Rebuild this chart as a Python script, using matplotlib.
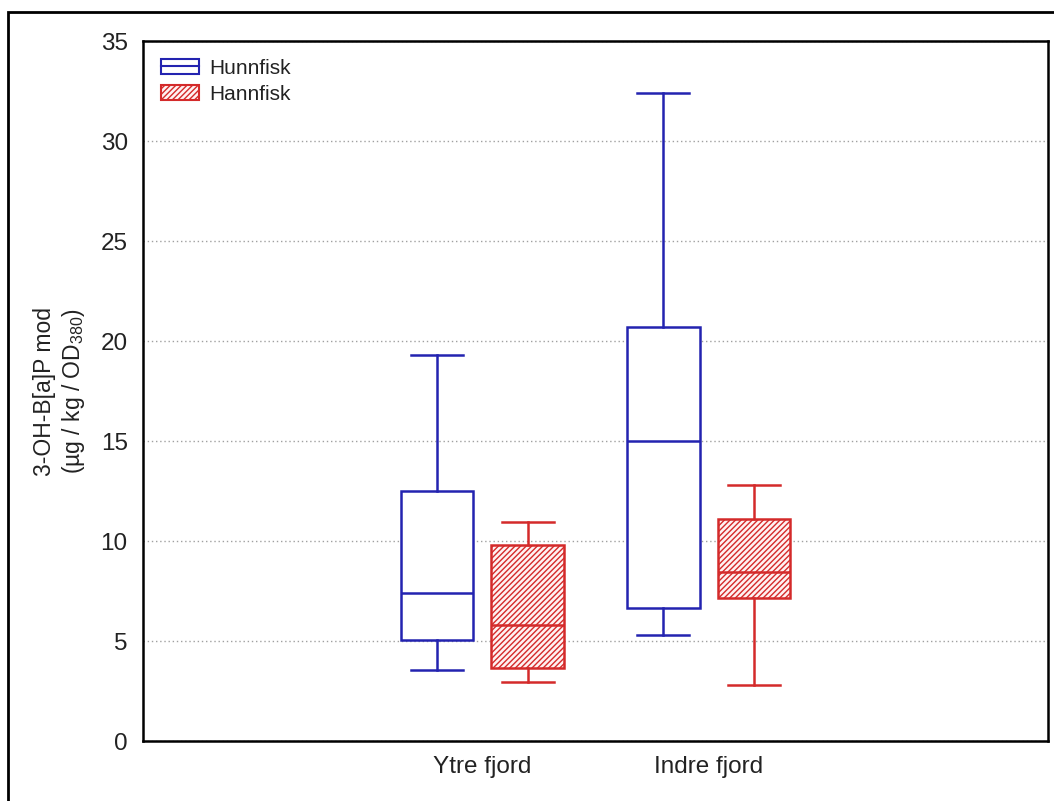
import matplotlib
matplotlib.use('Agg')
import matplotlib.pyplot as plt
from matplotlib.patches import Patch, Rectangle
from matplotlib.lines import Line2D
from matplotlib.legend_handler import HandlerTuple

plt.rcParams['font.family'] = ['Liberation Sans', 'DejaVu Sans']
plt.rcParams['mathtext.fontset'] = 'custom'
plt.rcParams['mathtext.rm'] = 'Liberation Sans'
plt.rcParams['mathtext.it'] = 'Liberation Sans'
plt.rcParams['hatch.linewidth'] = 1.0

# box statistics per location: Hunnfisk (female) and Hannfisk (male)
sites = ['Ytre fjord', 'Indre fjord']
groups = ['Hunnfisk', 'Hannfisk']
whislo = {'Hunnfisk': [3.55, 5.3], 'Hannfisk': [2.97, 2.8]}
q1 = {'Hunnfisk': [5.05, 6.67], 'Hannfisk': [3.65, 7.17]}
med = {'Hunnfisk': [7.4, 15.0], 'Hannfisk': [5.8, 8.45]}
q3 = {'Hunnfisk': [12.5, 20.7], 'Hannfisk': [9.8, 11.1]}
whishi = {'Hunnfisk': [19.3, 32.4], 'Hannfisk': [10.95, 12.8]}

blue = '#2323b0'
red = '#d42a2a'
colors = {'Hunnfisk': blue, 'Hannfisk': red}
offsets = {'Hunnfisk': -0.2, 'Hannfisk': 0.2}
hatches = {'Hunnfisk': None, 'Hannfisk': '//////'}

fig = plt.figure(figsize=(10.54, 8.01), dpi=100)
ax = fig.add_axes([143 / 1054, 60 / 801, 905 / 1054, 700 / 801])

for g in groups:
    stats = []
    for i in range(len(sites)):
        stats.append({'whislo': whislo[g][i], 'q1': q1[g][i], 'med': med[g][i],
                      'q3': q3[g][i], 'whishi': whishi[g][i], 'fliers': []})
    pos = [i + offsets[g] for i in range(len(sites))]
    c = colors[g]
    bp = ax.bxp(stats, positions=pos, widths=0.32, capwidths=0.23,
                patch_artist=True, showfliers=False, manage_ticks=False,
                boxprops=dict(facecolor='white', edgecolor=c, linewidth=1.8),
                whiskerprops=dict(color=c, linewidth=1.8),
                capprops=dict(color=c, linewidth=1.8),
                medianprops=dict(color=c, linewidth=1.8), zorder=3)
    for b in bp['boxes']:
        if hatches[g]:
            b.set_hatch(hatches[g])
            b.set_facecolor('#fff2f2')

ax.set_xlim(-1.5, 2.5)
ax.set_ylim(0, 35)
ax.set_yticks(range(0, 36, 5))
ax.set_xticks(range(len(sites)))
ax.set_xticklabels(sites)
ax.tick_params(axis='both', length=0, labelsize=17.5, colors='#222222', pad=11)
ax.yaxis.grid(True, linestyle=(0, (1, 2)), color='#a0a0a0', linewidth=1.0, zorder=0)
ax.set_axisbelow(True)
for s in ax.spines.values():
    s.set_linewidth(1.8)

ax.set_ylabel('3-OH-B[a]P mod\n(µg / kg / OD$_{380}$)', fontsize=16.5,
              color='#222222', linespacing=1.2, labelpad=10)

# legend handles: plain box with median line, hatched box
h1 = (Patch(facecolor='white', edgecolor=blue, linewidth=1.5),
      Line2D([], [], color=blue, linewidth=1.5))
h2 = Patch(facecolor='#fff2f2', edgecolor=red, hatch='//////', linewidth=1.5)
leg = ax.legend([h1, h2], groups, loc='upper left', frameon=False,
                fontsize=15, handler_map={tuple: HandlerTuple(ndivide=1, pad=0)},
                handlelength=1.85, handleheight=0.7, handletextpad=0.5,
                labelspacing=0.35, borderaxespad=0.45)
for t in leg.get_texts():
    t.set_color('#222222')

# outer frame around the plot area
fig.patches.append(Rectangle((8 / 1054, -0.05), 1.2, 0.05 + 1 - 12 / 801,
                             transform=fig.transFigure, fill=False,
                             edgecolor='black', linewidth=2.0))

fig.savefig('out.png', dpi=100, facecolor='white')
